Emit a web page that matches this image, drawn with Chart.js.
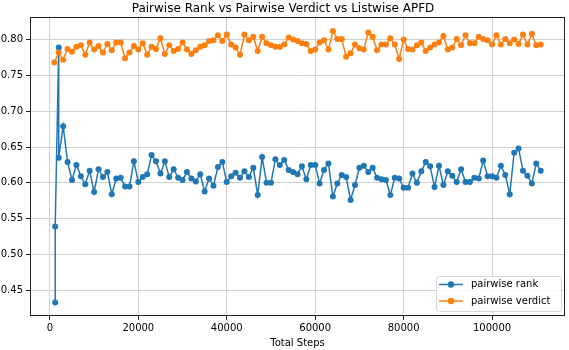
<!DOCTYPE html>
<html>
<head>
<meta charset="utf-8">
<script src="https://cdn.jsdelivr.net/npm/chart.js@4.4.1/dist/chart.umd.min.js"></script>
<style>
  body { margin: 0; background: #fff; }
  canvas { display: block; }
</style>
</head>
<body>
<canvas id="myChart" width="569" height="350"></canvas>
<script>
// x positions (training steps) for each series
const rankSteps = [
  1200, 1200, 2000, 2000,
  3000, 4000, 5000, 6000, 7000, 8000, 9000, 10000, 11000, 12000,
  13000, 14000, 15000, 16000, 17000, 18000, 19000, 20000, 21000, 22000,
  23000, 24000, 25000, 26000, 27000, 28000, 29000, 30000, 31000, 32000,
  33000, 34000, 35000, 36000, 37000, 38000, 39000, 40000, 41000, 42000,
  43000, 44000, 45000, 46000, 47000, 48000, 49000, 50000, 51000, 52000,
  53000, 54000, 55000, 56000, 57000, 58000, 59000, 60000, 61000, 62000,
  63000, 64000, 65000, 66000, 67000, 68000, 69000, 70000, 71000, 72000,
  73000, 74000, 75000, 76000, 77000, 78000, 79000, 80000, 81000, 82000,
  83000, 84000, 85000, 86000, 87000, 88000, 89000, 90000, 91000, 92000,
  93000, 94000, 95000, 96000, 97000, 98000, 99000, 100000, 101000, 102000,
  103000, 104000, 105000, 106000, 107000, 108000, 109000, 110000, 111000
];
const verdictSteps = [
  1000, 2000, 3000,
  4000, 5000, 6000, 7000, 8000, 9000, 10000, 11000, 12000, 13000,
  14000, 15000, 16000, 17000, 18000, 19000, 20000, 21000, 22000, 23000,
  24000, 25000, 26000, 27000, 28000, 29000, 30000, 31000, 32000, 33000,
  34000, 35000, 36000, 37000, 38000,
  39000, 40000, 41000, 42000, 43000, 44000, 45000, 46000, 47000, 48000,
  49000, 50000, 51000, 52000, 53000, 54000, 55000, 56000, 57000, 58000,
  59000, 60000, 61000, 62000, 63000, 64000, 65000, 66000, 67000, 68000,
  69000, 70000, 71000, 72000, 73000, 74000,
  75000, 76000, 77000, 78000, 79000, 80000,
  81000, 82000, 83000, 84000, 85000, 86000, 87000, 88000, 89000, 90000,
  91000, 92000, 93000, 94000, 95000, 96000, 97000, 98000, 99000, 100000,
  101000, 102000, 103000, 104000, 105000, 106000, 107000, 108000, 109000, 110000,
  111000
];

const rankApfd = [
  0.433, 0.539, 0.789, 0.635,
  0.679, 0.629, 0.604, 0.625, 0.609, 0.598, 0.617, 0.587, 0.619, 0.608,
  0.615, 0.584, 0.606, 0.607, 0.595, 0.595, 0.630, 0.601, 0.608, 0.612,
  0.639, 0.630, 0.613, 0.630, 0.608, 0.619, 0.607, 0.604, 0.615, 0.606,
  0.602, 0.612, 0.588, 0.606, 0.596, 0.622, 0.629, 0.601, 0.609, 0.614,
  0.607, 0.616, 0.608, 0.621, 0.583, 0.636, 0.600, 0.600, 0.633, 0.625,
  0.632, 0.618, 0.615, 0.612, 0.623, 0.605, 0.625, 0.625, 0.599, 0.618,
  0.627, 0.581, 0.599, 0.611, 0.608, 0.576, 0.597, 0.621, 0.624, 0.615,
  0.621, 0.607, 0.605, 0.604, 0.583, 0.607, 0.606, 0.593, 0.593, 0.613,
  0.600, 0.616, 0.629, 0.623, 0.594, 0.624, 0.597, 0.616, 0.610, 0.601,
  0.619, 0.601, 0.601, 0.607, 0.606, 0.631, 0.609, 0.609, 0.607, 0.624,
  0.611, 0.584, 0.642, 0.648, 0.617, 0.610, 0.599, 0.627, 0.617
];
const verdictApfd = [
  0.768, 0.782, 0.772,
  0.787, 0.783, 0.790, 0.792, 0.779, 0.796, 0.786, 0.791, 0.782, 0.794,
  0.785, 0.796, 0.796, 0.774, 0.782, 0.791, 0.786, 0.795, 0.779, 0.790,
  0.787, 0.802, 0.780, 0.792, 0.784, 0.787, 0.796, 0.786, 0.780, 0.785,
  0.790, 0.792, 0.798, 0.799, 0.806,
  0.798, 0.807, 0.793, 0.789, 0.779, 0.807, 0.799, 0.804, 0.784, 0.804,
  0.795, 0.792, 0.790, 0.790, 0.793, 0.803, 0.800, 0.798, 0.795, 0.794,
  0.784, 0.786, 0.796, 0.799, 0.786, 0.812, 0.801, 0.801, 0.776, 0.781,
  0.793, 0.788, 0.786, 0.810, 0.804, 0.785,
  0.793, 0.793, 0.802, 0.793, 0.773, 0.800,
  0.787, 0.786, 0.792, 0.796, 0.784, 0.789, 0.793, 0.796, 0.805, 0.786,
  0.789, 0.801, 0.792, 0.806, 0.795, 0.795, 0.804, 0.801, 0.799, 0.793,
  0.806, 0.793, 0.801, 0.795, 0.800, 0.794, 0.807, 0.793, 0.808, 0.792,
  0.793
];

const xTicks = [0, 20000, 40000, 60000, 80000, 100000];
const yTicks = [0.45, 0.50, 0.55, 0.60, 0.65, 0.70, 0.75, 0.80];

const FONT = "'DejaVu Sans', sans-serif";

// matplotlib-ish frame + legend box in the lower right corner
const frameAndLegend = {
  id: "frameAndLegend",
  afterDraw(chart) {
    const { ctx, chartArea: a } = chart;
    ctx.save();
    ctx.strokeStyle = "#222";
    ctx.lineWidth = 1;
    ctx.strokeRect(Math.round(a.left) + 0.5, Math.round(a.top) + 0.5,
      Math.round(a.right - a.left) - 1, Math.round(a.bottom - a.top) - 1);

    const w = 125, h = 35;
    const bx = a.right - 4 - w, by = a.bottom - 5 - h;
    ctx.fillStyle = "rgba(255,255,255,0.8)";
    ctx.strokeStyle = "#d6d6d6";
    ctx.beginPath();
    ctx.roundRect(bx + 0.5, by + 0.5, w, h, 3);
    ctx.fill();
    ctx.stroke();

    ctx.font = "10px " + FONT;
    ctx.textBaseline = "middle";
    chart.data.datasets.forEach((ds, i) => {
      const cy = by + 8.5 + i * 16.5;
      ctx.strokeStyle = ds.borderColor;
      ctx.lineWidth = 1.5;
      ctx.beginPath();
      ctx.moveTo(bx + 3, cy);
      ctx.lineTo(bx + 27, cy);
      ctx.stroke();
      ctx.fillStyle = ds.borderColor;
      ctx.beginPath();
      ctx.arc(bx + 15, cy, 3.2, 0, Math.PI * 2);
      ctx.fill();
      ctx.fillStyle = "#000";
      ctx.fillText(ds.label, bx + 35, cy);
    });
    ctx.restore();
  }
};

const toPoints = (xs, ys) => xs.map((x, i) => ({ x: x, y: ys[i] }));

new Chart(document.getElementById("myChart").getContext("2d"), {
  type: "line",
  data: {
    datasets: [
      {
        label: "pairwise rank",
        data: toPoints(rankSteps, rankApfd),
        borderColor: "#1f77b4",
        backgroundColor: "#1f77b4",
        pointBackgroundColor: "#1f77b4",
        borderWidth: 1.5,
        pointRadius: 3,
        pointBorderWidth: 0,
        fill: false,
        order: 1
      },
      {
        label: "pairwise verdict",
        data: toPoints(verdictSteps, verdictApfd),
        borderColor: "#ff7f0e",
        backgroundColor: "#ff7f0e",
        pointBackgroundColor: "#ff7f0e",
        borderWidth: 1.5,
        pointRadius: 3,
        pointBorderWidth: 0,
        fill: false,
        order: 0
      }
    ]
  },
  options: {
    responsive: false,
    animation: false,
    devicePixelRatio: 1,
    layout: { padding: { left: 0, right: 3, top: 0, bottom: 0 } },
    plugins: {
      legend: { display: false },
      tooltip: { enabled: false },
      title: {
        display: true,
        text: "Pairwise Rank vs Pairwise Verdict vs Listwise APFD",
        color: "#000",
        font: { family: FONT, size: 12, weight: "normal" },
        padding: { top: 2, bottom: 1 }
      }
    },
    scales: {
      x: {
        type: "linear",
        min: -4500,
        max: 116500,
        afterBuildTicks: (scale) => { scale.ticks = xTicks.map(v => ({ value: v })); },
        afterFit: (scale) => { scale.height = 34; },
        ticks: {
          color: "#000",
          font: { family: FONT, size: 10 },
          padding: 2,
          maxRotation: 0,
          callback: (v) => String(v)
        },
        grid: { color: "#d0d0d0", tickColor: "#222", tickLength: 4 },
        border: { display: false },
        title: {
          display: true,
          text: "Total Steps",
          color: "#000",
          font: { family: FONT, size: 10 },
          padding: { top: 0, bottom: 1 }
        }
      },
      y: {
        min: 0.414,
        max: 0.831,
        afterBuildTicks: (scale) => { scale.ticks = yTicks.map(v => ({ value: v })); },
        afterFit: (scale) => { scale.width = 30; },
        ticks: {
          color: "#000",
          font: { family: FONT, size: 10 },
          padding: 3,
          callback: (v) => Number(v).toFixed(2)
        },
        grid: { color: "#d0d0d0", tickColor: "#222", tickLength: 4 },
        border: { display: false }
      }
    }
  },
  plugins: [frameAndLegend]
});
</script>
</body>
</html>
